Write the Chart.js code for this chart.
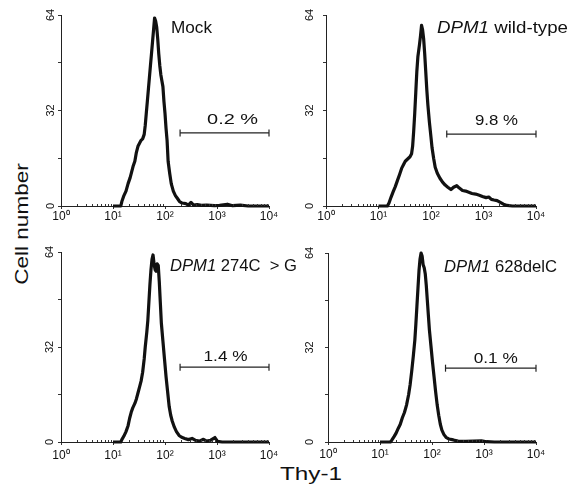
<!DOCTYPE html>
<html><head><meta charset="utf-8">
<script src="https://cdn.jsdelivr.net/npm/chart.js@4"></script>
<style>
html,body{margin:0;padding:0;background:#fff;}
#wrap{position:relative;width:580px;height:484px;overflow:hidden;background:#fff;font-family:'Liberation Sans',Arial,sans-serif;color:#111;}
canvas{position:absolute;}
.lab{position:absolute;white-space:nowrap;font-size:18px;line-height:18px;}
</style></head>
<body><div id="wrap">
<div class="lab" id="ylab" style="left:22px;top:224px;transform:translate(-50%,-50%) rotate(-90deg) scaleX(1.25);">Cell number</div>
<div class="lab" id="xlab" style="left:280px;top:465px;transform-origin:0 0;transform:scaleX(1.35);">Thy-1</div>
</div>
<script>
// ---- data (x in log10 decades of Thy-1 fluorescence, y = cell count) ----
const xTickLabels = ['10\u2070','10\u00B9','10\u00B2','10\u00B3','10\u2074'];
const yTickLabels = [0, 32, 64];

const mockLogX = [1.00,1.15,1.17,1.21,1.25,1.29,1.33,1.36,1.39,1.42,1.45,1.48,1.51,1.54,1.57,1.60,1.62,1.64,1.66,1.68,1.70,1.72,1.74,1.76,1.78,1.80,1.82,1.84,1.86,1.88,1.90,1.92,1.94,1.96,1.98,2.00,2.02,2.04,2.06,2.09,2.12,2.16,2.20,2.24,2.28,2.33,2.40,2.45,2.50,2.55,2.62,2.70,2.80,2.95,3.05,3.20,3.30,3.45,3.60,4.00];
const mockCount = [0,0,1.5,3.5,5,7.5,9.5,11.5,13.5,15,18,20,21,22,22.5,24,27,31,35,39,43,47,51,55,59,63,62,60,56,51,47,44,42,40,35,31,26,22,15,11,7.5,5,3.5,2.5,1.5,1,0.8,0.3,1.2,0.3,0.5,0.2,0.3,0.1,0.2,0.6,0.1,0.3,0,0];

const wtLogX = [1.00,1.17,1.20,1.24,1.28,1.32,1.36,1.40,1.44,1.48,1.51,1.54,1.57,1.60,1.63,1.65,1.67,1.69,1.71,1.73,1.75,1.78,1.80,1.82,1.84,1.86,1.88,1.90,1.92,1.94,1.97,2.00,2.02,2.05,2.08,2.12,2.17,2.22,2.27,2.32,2.38,2.43,2.49,2.54,2.60,2.66,2.72,2.78,2.85,2.92,2.98,3.05,3.10,3.15,3.20,3.26,3.32,3.38,3.45,3.55,4.00];
const wtCount = [0,0,1,3,4.8,6.5,8.5,10.5,12.6,14,15,15.5,16,16.5,17.5,20,25,31,38,45,50,54,57,60.5,59,56,51,45,39,34,28,23,19.5,16,13,11,9.3,8,7,6.3,5.5,6.3,6.8,6,5.2,5,4.6,4.2,4,3.6,3.2,2.8,3,2.2,2,1.8,1.2,0.6,0.2,0,0];

const c274gLogX = [1.00,1.15,1.17,1.21,1.25,1.29,1.32,1.35,1.38,1.42,1.45,1.48,1.51,1.54,1.57,1.60,1.62,1.65,1.67,1.69,1.71,1.73,1.75,1.77,1.79,1.81,1.83,1.85,1.87,1.89,1.91,1.93,1.96,1.99,2.02,2.05,2.08,2.11,2.14,2.18,2.22,2.27,2.32,2.38,2.45,2.52,2.58,2.66,2.74,2.80,2.88,2.96,3.01,3.10,4.00];
const c274gCount = [0,0,0.8,2,3.5,5.5,8,10,11.5,13,14.5,16.5,18.5,20.5,23.5,28,32,37,41,47,53,58,61.5,63,60,58,57.5,60,59.5,54,47,40,34,28,22,17,12,9,7,5,3.5,2.2,1.6,1.2,0.8,1.2,0.6,0.3,0.9,0.3,0.6,1.5,0.2,0,0];

const del628LogX = [1.00,1.20,1.23,1.27,1.31,1.35,1.39,1.43,1.47,1.51,1.55,1.58,1.61,1.64,1.67,1.69,1.71,1.73,1.75,1.77,1.79,1.81,1.83,1.85,1.87,1.89,1.91,1.93,1.95,1.98,2.01,2.04,2.07,2.10,2.13,2.16,2.19,2.23,2.27,2.33,2.41,2.50,2.65,2.95,3.05,3.20,4.00];
const del628Count = [0,0,0.7,1.8,3,4.6,6,8.2,10,12.5,16,19.5,24,29,34.5,40,46,52,58,62,64,63,60,59,57,53,48,43,38,32.5,27,22,17,12.5,9,6,4,2.5,1.6,1,0.7,0.3,0.2,0.4,0.1,0,0];

const seriesX = [mockLogX, wtLogX, c274gLogX, del628LogX];
const seriesY = [mockCount, wtCount, c274gCount, del628Count];
const gateLow = [2.29, 2.30, 2.29, 2.26];
const gateHigh = [4, 4, 4, 4];
const gateY = [24.5, 24.1, 25.2, 25.0];
const gatePercent = ['0.2 %', '9.8 %', '1.4 %', '0.1 %'];
const titleItalic = ['', 'DPM1', 'DPM1', 'DPM1'];
const titleRest = ['Mock', ' wild-type', ' 274C  > G', ' 628delC'];

// ---- layout (pixels) ----
const panels = [
  {left:0,   top:0,   w:290, h:240, padTop:15, padRight:21, yW:61, xH:34, xPad:0, yLabOff:10, tx:171, tBase:33, tW:41,  lDx:8, lDy:9, lW:51},
  {left:290, top:0,   w:290, h:240, padTop:15, padRight:44, yW:36, xH:34, xPad:0, yLabOff:16, tx:147, tBase:33, tW:131, lDx:5, lDy:9, lW:43},
  {left:0,   top:240, w:310, h:244, padTop:12, padRight:41, yW:61, xH:42, xPad:3, yLabOff:11, tx:170, tBase:31, tW:127, lDx:1, lDy:6, lW:44},
  {left:290, top:240, w:290, h:244, padTop:13, padRight:44, yW:38, xH:42, xPad:2, yLabOff:18, tx:154, tBase:32, tW:113, lDx:5, lDy:5, lW:44}
];

const FONT = "'Liberation Sans', Arial, sans-serif";
Chart.defaults.font.family = FONT;
Chart.defaults.color = '#111';

function drawFitted(ctx, parts, x, y, targetW, size) {
  let total = 0;
  parts.forEach(p => { ctx.font = (p.it ? 'italic ' : '') + size + 'px ' + FONT; p.w = ctx.measureText(p.t).width; total += p.w; });
  const sx = targetW / total;
  ctx.save();
  ctx.translate(x, y);
  ctx.scale(sx, 1);
  ctx.textBaseline = 'alphabetic';
  ctx.textAlign = 'left';
  ctx.fillStyle = '#111';
  let cx = 0;
  parts.forEach(p => { ctx.font = (p.it ? 'italic ' : '') + size + 'px ' + FONT; ctx.fillText(p.t, cx, 0); cx += p.w; });
  ctx.restore();
}

const wrap = document.getElementById('wrap');
panels.forEach((P, i) => {
  const cv = document.createElement('canvas');
  cv.width = P.w; cv.height = P.h;
  cv.style.left = P.left + 'px'; cv.style.top = P.top + 'px';
  cv.style.width = P.w + 'px'; cv.style.height = P.h + 'px';
  wrap.appendChild(cv);

  const hist = seriesX[i].map((x, k) => ({x: x, y: seriesY[i][k]}));
  const gate = [{x: gateLow[i], y: gateY[i]}, {x: gateHigh[i], y: gateY[i]}];

  const extras = {
    id: 'extras' + i,
    afterDraw(chart) {
      const ctx = chart.ctx;
      const xs = chart.scales.x, ys = chart.scales.y;
      const ca = chart.chartArea;
      // minor log ticks on x axis
      ctx.save();
      ctx.strokeStyle = '#333'; ctx.lineWidth = 1;
      ctx.beginPath();
      for (let d = 0; d < 4; d++) {
        for (let m = 2; m <= 9; m++) {
          const px = Math.round(xs.getPixelForValue(d + Math.log10(m))) + 0.5;
          ctx.moveTo(px, ca.bottom); ctx.lineTo(px, ca.bottom - 2);
        }
      }
      ctx.stroke();
      ctx.restore();
      // y tick labels, rotated
      ctx.save();
      ctx.fillStyle = '#111';
      ctx.font = '11px ' + FONT;
      ctx.textAlign = 'center'; ctx.textBaseline = 'middle';
      yTickLabels.forEach(v => {
        const py = ys.getPixelForValue(v);
        ctx.save();
        ctx.translate(ca.left - P.yLabOff, py);
        ctx.rotate(-Math.PI / 2);
        ctx.fillText(String(v), 0, 0);
        ctx.restore();
      });
      ctx.restore();
      // panel title
      const parts = [];
      if (titleItalic[i]) parts.push({t: titleItalic[i], it: true});
      parts.push({t: titleRest[i], it: false});
      drawFitted(ctx, parts, P.tx, P.tBase, P.tW, 17);
      // gate percentage
      const gx = (xs.getPixelForValue(gateLow[i]) + xs.getPixelForValue(gateHigh[i])) / 2 + P.lDx;
      const gy = ys.getPixelForValue(gateY[i]) - P.lDy;
      drawFitted(ctx, [{t: gatePercent[i]}], gx - P.lW / 2, gy, P.lW, 15);
    }
  };

  new Chart(cv, {
    type: 'line',
    data: {
      datasets: [
        {data: hist, borderColor: '#111', borderWidth: 3.2, pointRadius: 0, tension: 0, borderJoinStyle: 'round', clip: 4},
        {data: gate, borderColor: '#222', borderWidth: 1.2, pointStyle: 'line', rotation: 90, pointRadius: 3.5,
         pointBorderWidth: 1.2, pointBorderColor: '#222', pointBackgroundColor: '#222', clip: false}
      ]
    },
    options: {
      responsive: false, animation: false, devicePixelRatio: 1,
      layout: {padding: {left: 0, top: P.padTop, right: P.padRight, bottom: 0}},
      plugins: {legend: {display: false}, tooltip: {enabled: false}, title: {display: false}},
      events: [],
      scales: {
        x: {
          type: 'linear', min: 0, max: 4,
          afterFit(s) { s.height = P.xH; },
          ticks: {stepSize: 1, autoSkip: false, maxRotation: 0, minRotation: 0, padding: P.xPad,
                  font: {size: 12}, color: '#111', callback: v => xTickLabels[v] || ''},
          grid: {drawOnChartArea: false, drawTicks: true, tickLength: 3, color: '#333'},
          border: {display: true, color: '#222', width: 1}
        },
        y: {
          type: 'linear', min: 0, max: 64,
          afterFit(s) { s.width = P.yW; },
          ticks: {stepSize: 16, display: false},
          grid: {drawOnChartArea: false, drawTicks: true, tickLength: 3, color: '#333'},
          border: {display: true, color: '#222', width: 1}
        }
      }
    },
    plugins: [extras]
  });
});
</script>
</body></html>
